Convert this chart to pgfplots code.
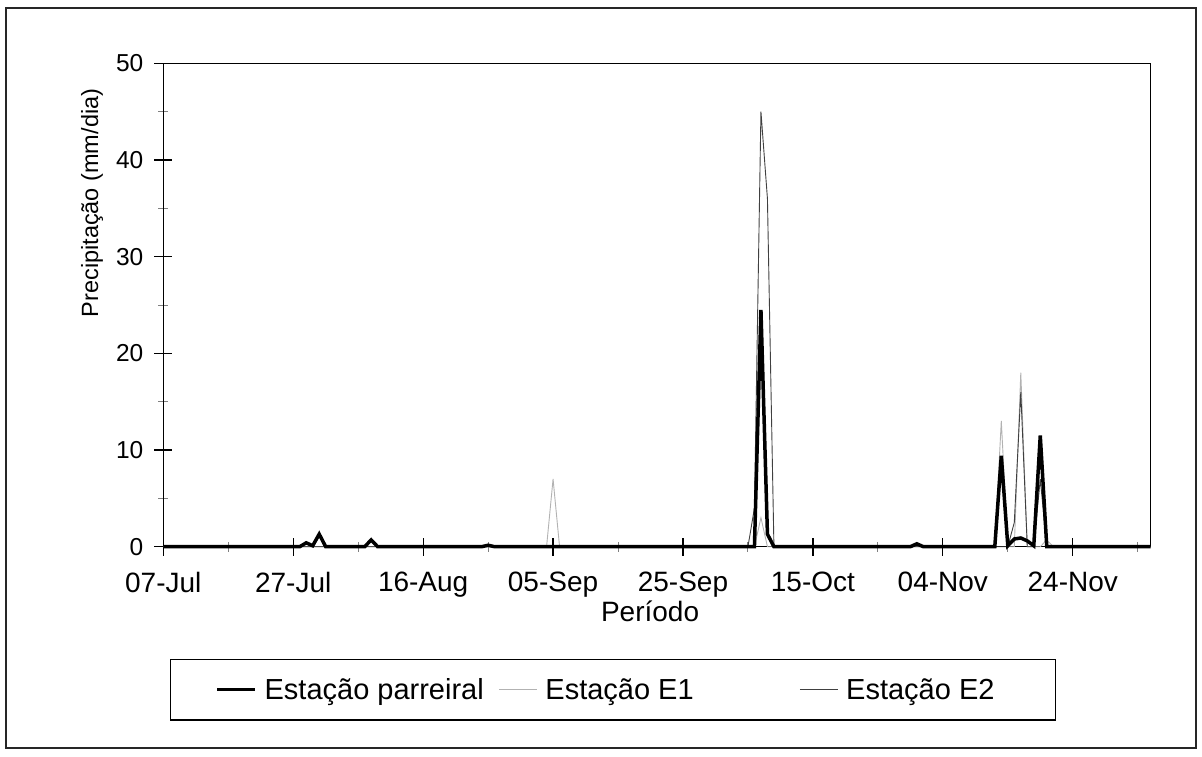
\documentclass[border=0pt]{standalone}
\usepackage{fontspec}
\setmainfont{Liberation Sans}
\usepackage{pgfplots}
\pgfplotsset{compat=1.18}
\begin{document}
\begin{tikzpicture}
\useasboundingbox (0pt,0pt) rectangle (1202pt,756pt);
\draw[line width=1.5pt, black!85] (6pt,8pt) rectangle (1196pt,748pt);
\begin{axis}[
 at={(163.3pt,209.3pt)}, anchor=south west,
 scale only axis, width=987.4pt, height=483.4pt,
 xmin=0, xmax=152, ymin=0, ymax=50,
 clip=false,
 xtick pos=bottom, ytick pos=left,
 xtick={0,20,...,140},
 xticklabels={07-Jul,27-Jul,16-Aug,05-Sep,25-Sep,15-Oct,04-Nov,24-Nov},
 minor xtick={10,30,...,150},
 ytick={0,10,...,50}, minor ytick={5,15,...,45},
 tick align=center,
 major tick length=18pt, minor tick length=10pt,
 every minor tick/.style={gray, line width=1pt},
 every major tick/.style={black, line width=1.2pt},
 axis line style={line width=1.5pt},
 font=\fontsize{23}{27}\selectfont,
 /pgf/number format/assume math mode=true,
 xticklabel style={yshift=-13pt, font=\fontsize{28}{32}\selectfont},
 yticklabel style={xshift=-7.5pt, font=\fontsize{24.5}{28}\selectfont},
 xlabel={Período},
 ylabel={Precipitação (mm/dia)},
 xlabel style={at={(axis description cs:0.493,-0.133)}, anchor=center, font=\fontsize{28}{32}\selectfont},
 ylabel style={at={(axis description cs:-0.0722,0.711)}, anchor=center, font=\fontsize{23.5}{27}\selectfont},
 legend columns=3,
 legend style={at={(axis description cs:0.0068,-0.232)}, anchor=north west,
   draw=black, line width=1.2pt, inner xsep=45pt, inner ysep=19pt,
   column sep=8pt, font=\fontsize{29}{33}\selectfont,
   nodes={inner sep=0pt}},
 legend image code/.code={\draw[#1] (0pt,0pt) -- (38pt,0pt);},
]
\addlegendimage{black, line width=3pt}
\addlegendentry{\makebox[226pt][l]{Estação parreiral}}
\addlegendimage{gray!60, line width=0.8pt}
\addlegendentry{\makebox[246pt][l]{Estação E1}}
\addlegendimage{black!75, line width=0.8pt}
\addlegendentry{\makebox[164pt][l]{Estação E2}}

% Estação E1
\addplot[gray!60, line width=0.9pt, forget plot] coordinates {
(0,0) (59,0) (60,7) (61,0) (91,0) (92,3) (93,0) (128,0) (129,13) (130,0) (131,0) (132,18) (133,0) (135,0) (136,0.7) (137,0) (152,0)};
% Estação E2
\addplot[black!75, line width=0.9pt, forget plot] coordinates {
(0,0) (90,0) (91,4) (92,45) (93,36) (94,0) (130,0) (131,2.5) (132,16) (133,0) (134,0) (135,7) (136,0) (152,0)};
% Estação parreiral
\addplot[black, line width=3.5pt, forget plot] coordinates {
(0,0) (21,0) (22,0.4) (23,0.1) (24,1.3) (25,0) (31,0) (32,0.7) (33,0) (49,0) (50,0.15) (51,0) (91,0) (92,24.5) (93,1.3) (94,0) (115,0) (116,0.3) (117,0) (128,0) (129,9.4) (130,0.1) (131,0.8) (132,0.9) (133,0.6) (134,0.1) (135,11.5) (136,0) (152,0)};
\end{axis}
\end{tikzpicture}
\end{document}
